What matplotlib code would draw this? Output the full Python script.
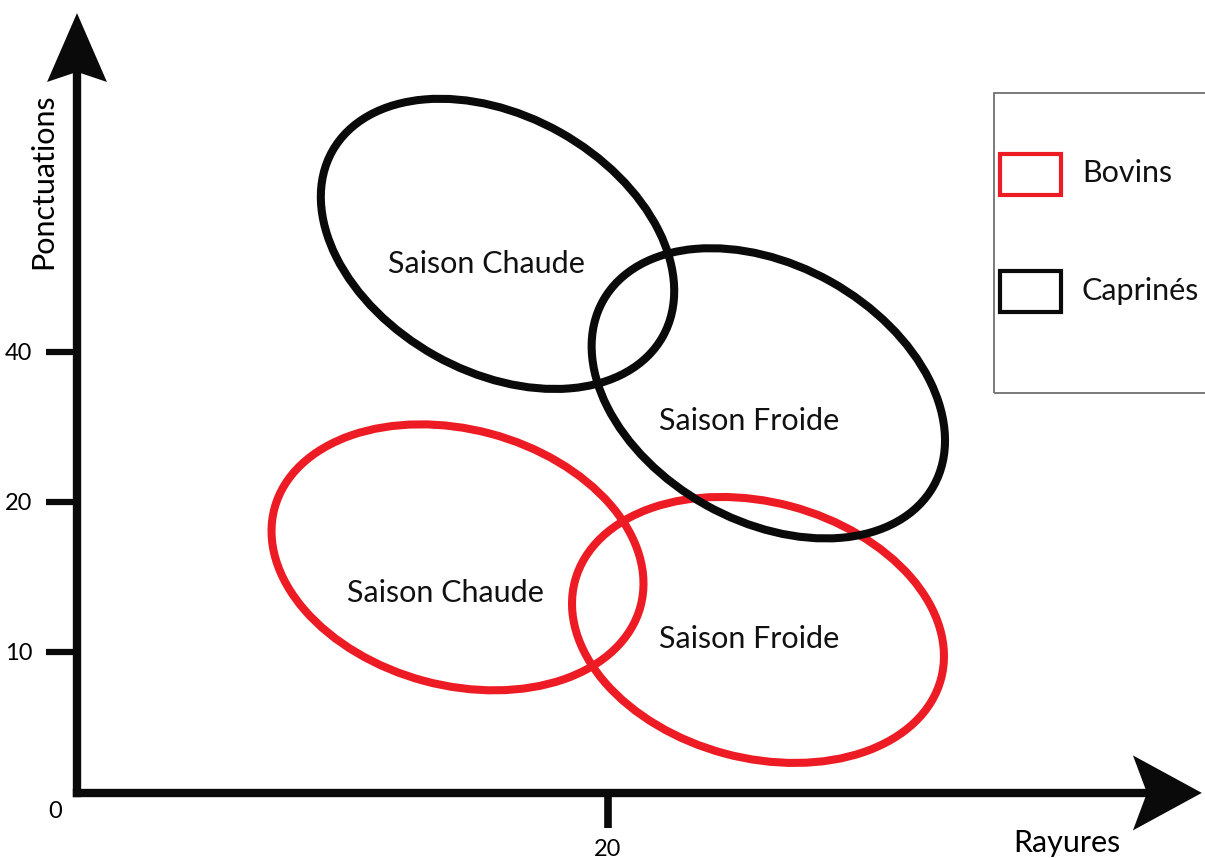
import matplotlib
matplotlib.use("Agg")
import matplotlib.pyplot as plt
from matplotlib.patches import Ellipse, Polygon, Rectangle

plt.rcParams["font.family"] = ["Lato", "DejaVu Sans"]

RED = "#ED1C24"
BLACK = "#0a0a0a"

# ellipses (data units): centre, size, tilt
GROUPS = ["Bovins", "Bovins", "Caprinés", "Caprinés"]
SEASONS = ["Saison Chaude", "Saison Froide", "Saison Chaude", "Saison Froide"]
CENTER_X = [14.36, 25.70, 15.87, 26.09]
CENTER_Y = [8.89, 6.15, 20.72, 15.08]
WIDTHS = [14.30, 14.30, 14.30, 14.30]
HEIGHTS = [9.66, 9.66, 9.66, 9.66]
ANGLES = [-15.0, -15.0, -29.3, -29.3]
LABEL_X = [13.89, 25.38, 15.47, 25.38]
LABEL_Y = [7.21, 5.47, 19.62, 13.70]

LEGEND_LABELS = ["Bovins", "Caprinés"]
LEGEND_COLORS = [RED, BLACK]

Y_TICKS = [5.32, 10.98, 16.64]
Y_TICK_LABELS = ["10", "20", "40"]
X_TICKS = [20.04]
X_TICK_LABELS = ["20"]

X_MIN, X_MAX = -2.906, 42.57
Y_MIN, Y_MAX = -2.453, 29.92
X_END, Y_END = 40.38, 27.21

fig = plt.figure(figsize=(12.05, 8.58), dpi=100)
ax = fig.add_axes([0, 0, 1, 1])
ax.set_xlim(X_MIN, X_MAX)
ax.set_ylim(Y_MIN, Y_MAX)
ax.set_aspect("equal")

# axes as thick lines with arrows
for side in ["top", "right"]:
    ax.spines[side].set_visible(False)
ax.spines["left"].set_position(("data", 0))
ax.spines["bottom"].set_position(("data", 0))
ax.spines["left"].set_bounds(0, Y_END)
ax.spines["bottom"].set_bounds(0, X_END)
for side in ["left", "bottom"]:
    ax.spines[side].set_linewidth(6.0)
    ax.spines[side].set_color(BLACK)
    ax.spines[side].set_capstyle("projecting")

ax.set_yticks(Y_TICKS)
ax.set_yticklabels(Y_TICK_LABELS)
ax.set_xticks(X_TICKS)
ax.set_xticklabels(X_TICK_LABELS)
ax.tick_params(axis="y", direction="out", length=22, width=4.5, color=BLACK,
               pad=10, labelsize=17)
ax.tick_params(axis="x", direction="out", length=25, width=5.5, color=BLACK,
               pad=8, labelsize=17)

# arrow heads
ax.add_patch(Polygon([[0, 29.43], [1.13, 26.83], [0, Y_END], [-1.13, 26.83]],
                     closed=True, facecolor=BLACK, edgecolor="none", zorder=3))
ax.add_patch(Polygon([[42.45, 0], [39.85, 1.415], [X_END, 0], [39.85, -1.415]],
                     closed=True, facecolor=BLACK, edgecolor="none", zorder=3))

ax.text(-0.81, -0.94, "0", fontsize=17, ha="center", va="baseline")
ax.text(-1.28, 23.09, "Ponctuations", fontsize=22, rotation=90,
        ha="center", va="center")
ax.text(37.35, -2.23, "Rayures", fontsize=22, ha="center", va="baseline")

# ellipses
for i in range(len(SEASONS)):
    color = RED if GROUPS[i] == "Bovins" else BLACK
    ax.add_patch(Ellipse((CENTER_X[i], CENTER_Y[i]), WIDTHS[i], HEIGHTS[i],
                         angle=ANGLES[i], fill=False, edgecolor=color,
                         linewidth=5.8, zorder=2))
    ax.text(LABEL_X[i], LABEL_Y[i], SEASONS[i], fontsize=22,
            ha="center", va="baseline", color="#111111")

# legend box, drawn by hand
ax.add_patch(Rectangle((34.60, 15.09), 9.0, 11.33, fill=False,
                       edgecolor="#707070", linewidth=1.3, clip_on=False))
legend_y = [22.57, 18.15]
text_y = [23.06, 18.60]
for lab, col, ly, ty in zip(LEGEND_LABELS, LEGEND_COLORS, legend_y, text_y):
    ax.add_patch(Rectangle((34.83, ly), 2.30, 1.55, fill=False,
                           edgecolor=col, linewidth=3.0))
    ax.text(37.92, ty, lab, fontsize=22, ha="left", va="baseline",
            color="#111111")

fig.savefig("out.png", dpi=100)
